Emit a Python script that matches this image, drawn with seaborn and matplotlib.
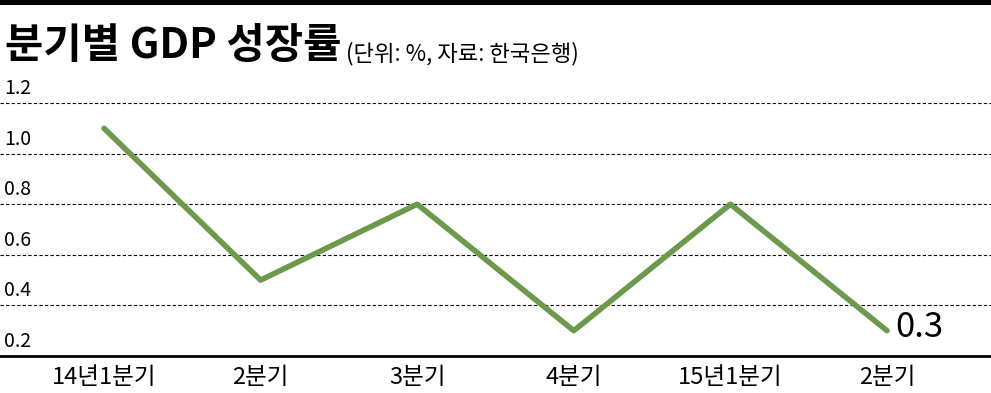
import matplotlib
matplotlib.use("Agg")
import matplotlib.pyplot as plt
import matplotlib.transforms as mtransforms
import seaborn as sns
import pandas as pd

quarters = ["14년1분기", "2분기", "3분기", "4분기", "15년1분기", "2분기"]
growth = [1.1, 0.5, 0.8, 0.3, 0.8, 0.3]
y_ticks = [0.2, 0.4, 0.6, 0.8, 1.0, 1.2]
y_labels = ["0.2", "0.4", "0.6", "0.8", "1.0", "1.2"]
title = "분기별 GDP 성장률"
subtitle = "(단위: %, 자료: 한국은행)"
last_label = "0.3"

sns.set_theme(style="white")
plt.rcParams["font.family"] = ["Noto Sans CJK KR", "DejaVu Sans"]

df = pd.DataFrame({"pos": list(range(len(quarters))), "growth": growth})

W, H = 991, 393
fig = plt.figure(figsize=(W / 100, H / 100), dpi=100)
ax = fig.add_axes([0, (H - 356) / H, 1.0, 253 / H])

sns.lineplot(data=df, x="pos", y="growth", ax=ax, color="#6b9a4c",
             linewidth=4.0, solid_capstyle="round")

ax.set_xlim(-104 / 156.6, (W - 104) / 156.6)
ax.set_ylim(0.2, 1.2)
ax.set_xlabel("")
ax.set_ylabel("")

ax.set_xticks(range(len(quarters)))
ax.set_xticklabels(quarters, fontsize=17, fontweight="medium", color="black")
ax.tick_params(axis="x", direction="in", length=9, width=1.0, color="black", pad=7)
ax.set_yticks(y_ticks)
ax.set_yticklabels([])
ax.tick_params(axis="y", length=0)

ax.yaxis.grid(True, color="black", linestyle=(0, (3, 2)), linewidth=0.8)
ax.xaxis.grid(False)
for s in ["top", "left", "right"]:
    ax.spines[s].set_visible(False)
ax.spines["bottom"].set_color("black")
ax.spines["bottom"].set_linewidth(2.0)

blend = mtransforms.blended_transform_factory(ax.transAxes, ax.transData)
for v, lab in zip(y_ticks, y_labels):
    ax.annotate(lab, xy=(0.004, v), xycoords=blend, xytext=(0, 10.5),
                textcoords="offset points", ha="left", va="center",
                fontsize=14, fontweight="medium", color="black")

ax.annotate(last_label, xy=(df["pos"].iloc[-1], df["growth"].iloc[-1]),
            xytext=(6, 2), textcoords="offset points", ha="left", va="center",
            fontsize=25, fontweight="medium", color="black")

# top black bar
fig.add_artist(plt.Rectangle((0, 1 - 5 / H), 1, 5 / H, transform=fig.transFigure,
                             color="black", lw=0))

fig.text(5 / W, 1 - 58 / H, title, fontsize=30, fontweight="black",
         ha="left", va="baseline", color="black")
fig.text(346 / W, 1 - 60 / H, subtitle, fontsize=16, ha="left",
         va="baseline", color="black")

fig.savefig("out.png", dpi=100)
